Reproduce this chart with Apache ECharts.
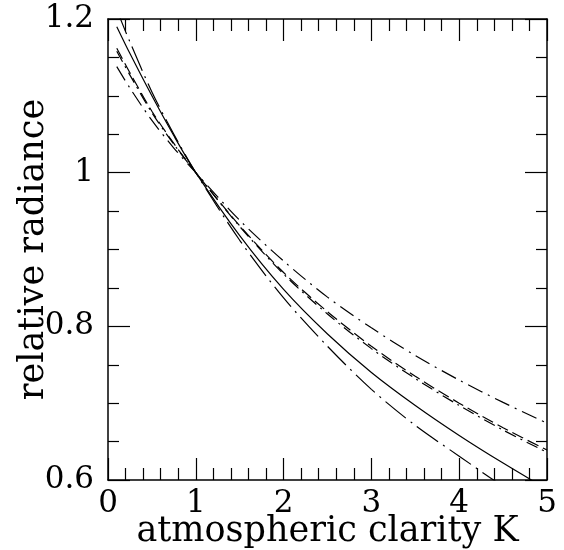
<!DOCTYPE html>
<html>
<head>
<meta charset="utf-8">
<script src="https://cdn.jsdelivr.net/npm/echarts@6/dist/echarts.min.js"></script>
<style>
html, body { margin: 0; padding: 0; background: #fff; }
#chart { width: 564px; height: 550px; }
</style>
</head>
<body>
<div id="chart"></div>
<script>
const FONT = "DejaVu Serif";

// atmospheric clarity K
const kValues = [0.1, 0.25, 0.5, 0.75, 1, 1.5, 2, 2.5, 3, 3.5, 4, 4.5, 5];

// relative radiance, one list per curve
const longDashDot = [1.212, 1.170, 1.105, 1.050, 1, 0.912, 0.837, 0.774, 0.718, 0.671, 0.631, 0.592, 0.560];
const solid = [1.190, 1.155, 1.100, 1.048, 1, 0.918, 0.848, 0.790, 0.740, 0.697, 0.658, 0.622, 0.588];
const dashed = [1.162, 1.130, 1.080, 1.038, 1, 0.931, 0.870, 0.819, 0.774, 0.735, 0.700, 0.668, 0.639];
const dashDotLow = [1.158, 1.127, 1.078, 1.037, 1, 0.930, 0.868, 0.816, 0.771, 0.732, 0.697, 0.665, 0.636];
const dashDotHigh = [1.138, 1.110, 1.068, 1.032, 1, 0.938, 0.885, 0.838, 0.798, 0.762, 0.730, 0.701, 0.674];

const chart = echarts.init(document.getElementById("chart"));

function pairs (ys) {
	return kValues.map((k, i) => [k, ys[i]]);
}

function curve (ys, type) {
	return {
		type: "line",
		data: pairs(ys),
		smooth: 0.3,
		showSymbol: false,
		symbol: "none",
		clip: true,
		lineStyle: { color: "#000", width: 1.2, type: type }
	};
}

const xBase = {
	type: "value",
	min: 0,
	max: 5,
	interval: 1,
	axisLine: { onZero: false, lineStyle: { color: "#000", width: 1.5 } },
	axisTick: { inside: true, length: 22, lineStyle: { color: "#000", width: 1.2 } },
	minorTick: { show: true, splitNumber: 5, length: 12, lineStyle: { color: "#000", width: 1.2 } },
	splitLine: { show: false }
};

const yBase = {
	type: "value",
	min: 0.6,
	max: 1.2,
	interval: 0.2,
	axisLine: { onZero: false, lineStyle: { color: "#000", width: 1.5 } },
	axisTick: { inside: true, length: 22, lineStyle: { color: "#000", width: 1.2 } },
	minorTick: { show: true, splitNumber: 4, length: 11, lineStyle: { color: "#000", width: 1.2 } },
	splitLine: { show: false }
};

option = {
	animation: false,
	backgroundColor: "#fff",
	grid: { left: 108, right: 17, top: 19, bottom: 70, containLabel: false, outerBoundsMode: "none" },
	xAxis: [Object.assign({}, xBase, {
		position: "bottom",
		name: "atmospheric clarity K",
		nameLocation: "middle",
		nameGap: 34,
		nameMoveOverlap: false,
		nameTextStyle: { fontFamily: FONT, fontSize: 35, color: "#000" },
		axisLabel: { margin: 8, fontFamily: FONT, fontSize: 31, color: "#000" }
	}), Object.assign({}, xBase, {
		position: "top",
		axisLabel: { show: false }
	})],
	yAxis: [Object.assign({}, yBase, {
		position: "left",
		name: "relative radiance",
		nameLocation: "middle",
		nameGap: 57,
		nameMoveOverlap: false,
		nameTextStyle: { fontFamily: FONT, fontSize: 35, color: "#000" },
		axisLabel: { margin: 14, fontFamily: FONT, fontSize: 31, color: "#000" }
	}), Object.assign({}, yBase, {
		position: "right",
		axisLabel: { show: false }
	})],
	series: [
		curve(longDashDot, [26, 6, 2, 6]),
		curve(solid, "solid"),
		curve(dashed, [12, 5]),
		curve(dashDotLow, [12, 5, 2, 5]),
		curve(dashDotHigh, [16, 6, 2, 6])
	]
};

chart.setOption(option);
window.onresize = chart.resize;
</script>
</body>
</html>
